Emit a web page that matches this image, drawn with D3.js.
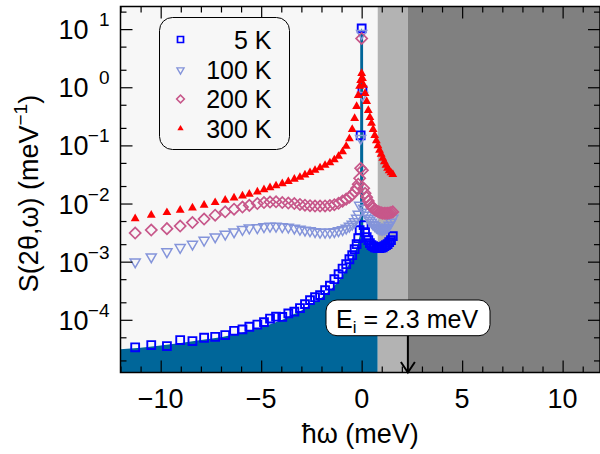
<!DOCTYPE html>
<html>
<head>
<meta charset="utf-8">
<script src="https://cdn.jsdelivr.net/npm/d3@7"></script>
<style>
  body { margin: 0; background: #fff; }
  svg { display: block; font-family: "Liberation Sans", Arial, sans-serif; }
</style>
</head>
<body>
<svg id="chart"></svg>
<script>
// energy transfer grid (meV), shared by all four temperatures
var energy = [-11.27, -10.47, -9.69, -9.03, -8.42, -7.84, -7.29, -6.79, -6.35, -5.93,
  -5.59, -5.19, -4.86, -4.56, -4.26, -3.95, -3.65, -3.35, -3.07, -2.82,
  -2.57, -2.32, -2.07, -1.82, -1.58, -1.36, -1.15, -0.95, -0.77, -0.61,
  -0.47, -0.35, -0.25, -0.17, -0.10, -0.05, 0, 0.04, 0.10, 0.17,
  0.25, 0.33, 0.41, 0.49, 0.57, 0.65, 0.73, 0.81, 0.89, 0.97,
  1.05, 1.13, 1.21, 1.29, 1.37, 1.46, 1.55];

var s5K = [3.36e-5, 3.67e-5, 3.53e-5, 4.48e-5, 4.31e-5, 4.91e-5, 5.10e-5, 5.46e-5, 6.47e-5, 6.84e-5,
  7.59e-5, 8.28e-5, 9.12e-5, 1.05e-4, 1.13e-4, 1.12e-4, 1.29e-4, 1.38e-4, 1.59e-4, 1.86e-4,
  2.18e-4, 2.45e-4, 2.66e-4, 3.24e-4, 3.87e-4, 5.0e-4, 6.1e-4, 7.6e-4, 9.06e-4, 1.10e-3,
  1.29e-3, 1.64e-3, 2.0e-3, 2.53e-3, 3.48e-3, 0.149, 10.3, 0.885, 4.24e-3, 3.21e-3,
  2.64e-3, 2.34e-3, 2.08e-3, 1.92e-3, 1.85e-3, 1.77e-3, 1.74e-3, 1.71e-3, 1.71e-3, 1.74e-3,
  1.77e-3, 1.85e-3, 1.92e-3, 2.0e-3, 2.16e-3, 2.34e-3, 2.74e-3];

var s100K = [9.9e-4, 1.21e-3, 1.48e-3, 1.75e-3, 2.0e-3, 2.34e-3, 2.67e-3, 2.97e-3, 3.25e-3, 3.57e-3,
  3.8e-3, 3.84e-3, 3.99e-3, 4.07e-3, 4.07e-3, 3.99e-3, 3.92e-3, 3.77e-3, 3.62e-3, 3.48e-3,
  3.41e-3, 3.28e-3, 3.21e-3, 3.21e-3, 3.21e-3, 3.28e-3, 3.41e-3, 3.55e-3, 3.77e-3, 4.07e-3,
  4.41e-3, 4.87e-3, 5.59e-3, 6.55e-3, 9.35e-3, 0.132, 8.43, 0.726, 8.3e-3, 7.09e-3,
  6.29e-3, 5.59e-3, 5.16e-3, 4.77e-3, 4.41e-3, 4.16e-3, 3.92e-3, 3.77e-3, 3.69e-3, 3.62e-3,
  3.62e-3, 3.69e-3, 3.77e-3, 3.92e-3, 4.24e-3, 4.77e-3, 5.59e-3];

var s200K = [3.1e-3, 3.5e-3, 3.7e-3, 4.1e-3, 4.7e-3, 5.4e-3, 6.3e-3, 7.2e-3, 8.0e-3, 8.7e-3,
  9.3e-3, 0.0100, 0.0104, 0.0106, 0.0107, 0.0104, 0.0102, 0.0100, 0.00965, 0.00935,
  0.00917, 0.00906, 0.00906, 0.00909, 0.00924, 0.00954, 0.0101, 0.0110, 0.0119, 0.0128,
  0.0142, 0.0160, 0.0183, 0.0215, 0.0272, 0.0404, 6.92, 0.0373, 0.0183, 0.0150,
  0.0128, 0.0110, 0.00973, 0.00881, 0.00830, 0.00782, 0.00752, 0.00729, 0.00709, 0.00695,
  0.00681, 0.00681, 0.00681, 0.00681, 0.00685, 0.00700, 0.00718];

var s300K = [5.5e-3, 6.3e-3, 7.0e-3, 7.7e-3, 8.4e-3, 9.35e-3, 0.0104, 0.0114, 0.0125, 0.0135,
  0.0145, 0.0158, 0.0173, 0.0187, 0.0202, 0.0219, 0.0239, 0.0262, 0.0283, 0.0310,
  0.0341, 0.0373, 0.0412, 0.0455, 0.0502, 0.0566, 0.0650, 0.0776, 0.0966, 0.130,
  0.189, 0.292, 0.470, 0.726, 1.04, 1.31, 1.73, 1.42, 1.08, 0.785,
  0.573, 0.401, 0.304, 0.240, 0.189, 0.149, 0.120, 0.0984, 0.0824, 0.0703,
  0.060, 0.0522, 0.0455, 0.0405, 0.0367, 0.0338, 0.0318];

// shaded 5 K calculation
var fillE = [-12, -11, -10, -9, -8, -7, -6, -5, -4, -3, -2.5, -2, -1.5, -1, -0.7, -0.5, -0.3, -0.2,
  -0.1, -0.08, -0.07, 0, 0.07, 0.08, 0.1, 0.2, 0.4, 0.6, 0.8];
var fillS = [3.1e-5, 3.3e-5, 3.6e-5, 4.0e-5, 4.5e-5, 5.0e-5, 5.9e-5, 7.4e-5, 9.8e-5, 1.45e-4, 1.85e-4, 2.4e-4,
  3.4e-4, 5.4e-4, 8.2e-4, 1.1e-3, 1.55e-3, 1.95e-3, 2.8e-3, 4.0e-3, 8, 10.5, 8, 4.0e-3, 3.0e-3, 2.2e-3,
  1.8e-3, 1.7e-3, 1.7e-3];

var regionEdges = [0.8, 2.3];   // kinematic limit shading, Ei
var ei = 2.3;

var xMajorTicks = [-10, -5, 0, 5, 10];
var xMinorTicks = [-12, -11, -9, -8, -7, -6, -4, -3, -2, -1, 1, 2, 3, 4, 6, 7, 8, 9, 11];
var yExponents = [1, 0, -1, -2, -3, -4];
var yMinorTicks = [2e-5, 5e-5, 2e-4, 5e-4, 2e-3, 5e-3, 0.02, 0.05, 0.2, 0.5, 2, 5, 20];
var legendLabels = ["5 K", "100 K", "200 K", "300 K"];

var svgWidth = 600, svgHeight = 454;
var margin = { top: 6.5, right: 0, bottom: 81.5, left: 120.5 };
var width = svgWidth - margin.left - margin.right;
var height = svgHeight - margin.top - margin.bottom;

var x = d3.scaleLinear().domain([-12, 11.86]).range([0, width]);
var y = d3.scaleLog().domain([1.24e-5, 24.5]).range([height, 0]);

var svg = d3.select("#chart")
    .attr("width", svgWidth)
    .attr("height", svgHeight);
var g = svg.append("g")
    .attr("transform", "translate(" + margin.left + "," + margin.top + ")");

svg.append("defs").append("clipPath").attr("id", "plotclip")
  .append("rect").attr("width", width).attr("height", height);

g.append("rect")
    .attr("width", width).attr("height", height)
    .attr("fill", "#f7f7f7");

var plot = g.append("g").attr("clip-path", "url(#plotclip)");

var area = d3.area()
    .x(function(d, i) { return x(fillE[i]); })
    .y0(height)
    .y1(function(d) { return y(d); });

plot.append("path")
    .datum(fillS)
    .attr("fill", "#006699")
    .attr("d", area);

plot.append("rect")
    .attr("x", x(regionEdges[0])).attr("y", 0)
    .attr("width", x(regionEdges[1]) - x(regionEdges[0])).attr("height", height)
    .attr("fill", "#b3b3b3");
plot.append("rect")
    .attr("x", x(regionEdges[1])).attr("y", 0)
    .attr("width", width - x(regionEdges[1])).attr("height", height)
    .attr("fill", "#808080");

var series = [
  { values: s5K, shape: d3.symbolSquare, size: 62, lsize: 36, rot: 0, fill: "none", stroke: "#0000ff", sw: 1.9 },
  { values: s100K, shape: d3.symbolTriangle, size: 44, lsize: 22, rot: 180, fill: "none", stroke: "#8494da", sw: 1.5 },
  { values: s200K, shape: d3.symbolSquare, size: 62, lsize: 30, rot: 45, fill: "none", stroke: "#c7578a", sw: 1.7 },
  { values: s300K, shape: d3.symbolTriangle, size: 34, lsize: 17, rot: 0, fill: "#ff0000", stroke: "none", sw: 0 }
];

series.forEach(function(s) {
  var sym = d3.symbol().type(s.shape).size(s.size);
  plot.append("g").selectAll("path")
      .data(s.values)
      .enter().append("path")
      .attr("d", sym)
      .attr("transform", function(d, i) {
        return "translate(" + x(energy[i]) + "," + y(d) + ") rotate(" + s.rot + ")";
      })
      .attr("fill", s.fill)
      .attr("stroke", s.stroke)
      .attr("stroke-width", s.sw);
});

// axes with inward ticks on all four sides
function tickAxis(axis, vals, len, tr) {
  var a = g.append("g")
      .attr("transform", tr)
      .call(axis.tickValues(vals).tickSize(-len).tickFormat(""));
  a.select(".domain").remove();
  a.selectAll("line").attr("stroke", "#000").attr("stroke-width", 1.2);
  return a;
}
tickAxis(d3.axisBottom(x), xMinorTicks, 6, "translate(0," + height + ")");
tickAxis(d3.axisBottom(x), xMajorTicks, 12, "translate(0," + height + ")");
tickAxis(d3.axisTop(x), xMinorTicks, 6, "translate(0,0)");
tickAxis(d3.axisTop(x), xMajorTicks, 12, "translate(0,0)");
var yMajorVals = yExponents.map(function(e) { return Math.pow(10, e); });
tickAxis(d3.axisLeft(y), yMinorTicks, 6, "translate(0,0)");
tickAxis(d3.axisLeft(y), yMajorVals, 12, "translate(0,0)");
tickAxis(d3.axisRight(y), yMinorTicks, 6, "translate(" + width + ",0)");
tickAxis(d3.axisRight(y), yMajorVals, 12, "translate(" + width + ",0)");

g.append("rect")
    .attr("width", width).attr("height", height)
    .attr("fill", "none").attr("stroke", "#000").attr("stroke-width", 1.5);

// x tick labels
g.selectAll(".xlab")
    .data(xMajorTicks)
    .enter().append("text")
    .attr("x", function(d) { return x(d); })
    .attr("y", height + 35.5)
    .attr("text-anchor", "middle")
    .attr("font-size", 27)
    .text(function(d) { return d < 0 ? "\u2212" + (-d) : d; });

// y tick labels 10^n
yExponents.forEach(function(e) {
  var ty = y(Math.pow(10, e));
  g.append("text")
      .attr("x", -32).attr("y", ty + 10)
      .attr("text-anchor", "end")
      .attr("font-size", 27)
      .text("10");
  g.append("text")
      .attr("x", -11).attr("y", ty - 3)
      .attr("text-anchor", "end")
      .attr("font-size", 19)
      .text(e < 0 ? "\u2212" + (-e) : e);
});

// axis titles
g.append("text")
    .attr("x", width / 2).attr("y", height + 70.5)
    .attr("text-anchor", "middle")
    .attr("font-size", 27)
    .text("\u0127\u03C9 (meV)");

var yt = g.append("text")
    .attr("transform", "translate(-83," + (height / 2 + 4) + ") rotate(-90)")
    .attr("text-anchor", "middle")
    .attr("font-size", 27);
yt.append("tspan").text("S(2\u03B8,\u03C9) (meV");
yt.append("tspan").attr("dy", -11).attr("font-size", 19).text("\u22121");
yt.append("tspan").attr("dy", 11).text(")");

// legend
var leg = g.append("g").attr("transform", "translate(" + (159.5 - margin.left) + "," + (17.5 - margin.top) + ")");
leg.append("rect")
    .attr("width", 130).attr("height", 132).attr("rx", 13)
    .attr("fill", "#f7f7f7").attr("stroke", "#000").attr("stroke-width", 1);
var legY = [22, 52.5, 81.5, 111];
series.forEach(function(s, i) {
  leg.append("path")
      .attr("d", d3.symbol().type(s.shape).size(s.lsize))
      .attr("transform", "translate(21," + legY[i] + ") rotate(" + s.rot + ")")
      .attr("fill", s.fill).attr("stroke", s.stroke).attr("stroke-width", s.sw * 0.9);
  leg.append("text")
      .attr("x", 112).attr("y", legY[i] + 9)
      .attr("text-anchor", "end")
      .attr("font-size", 25)
      .text(legendLabels[i]);
});

// Ei annotation
var ax = x(ei);
g.append("line")
    .attr("x1", ax).attr("x2", ax)
    .attr("y1", 335.7 - margin.top).attr("y2", height)
    .attr("stroke", "#000").attr("stroke-width", 2);
g.append("path")
    .attr("d", "M" + (ax - 7) + "," + (height - 10.5) + "L" + ax + "," + height + "L" + (ax + 7) + "," + (height - 10.5))
    .attr("fill", "none").attr("stroke", "#000").attr("stroke-width", 2);
g.append("rect")
    .attr("x", 326 - margin.left).attr("y", 300 - margin.top)
    .attr("width", 164).attr("height", 35.7).attr("rx", 11)
    .attr("fill", "#fff").attr("stroke", "#000").attr("stroke-width", 1);
var et = g.append("text")
    .attr("x", 336 - margin.left).attr("y", 328 - margin.top)
    .attr("font-size", 25);
et.append("tspan").text("E");
et.append("tspan").attr("dy", 5).attr("font-size", 17).text("i");
et.append("tspan").attr("dy", -5).text(" = 2.3 meV");
</script>
</body>
</html>
